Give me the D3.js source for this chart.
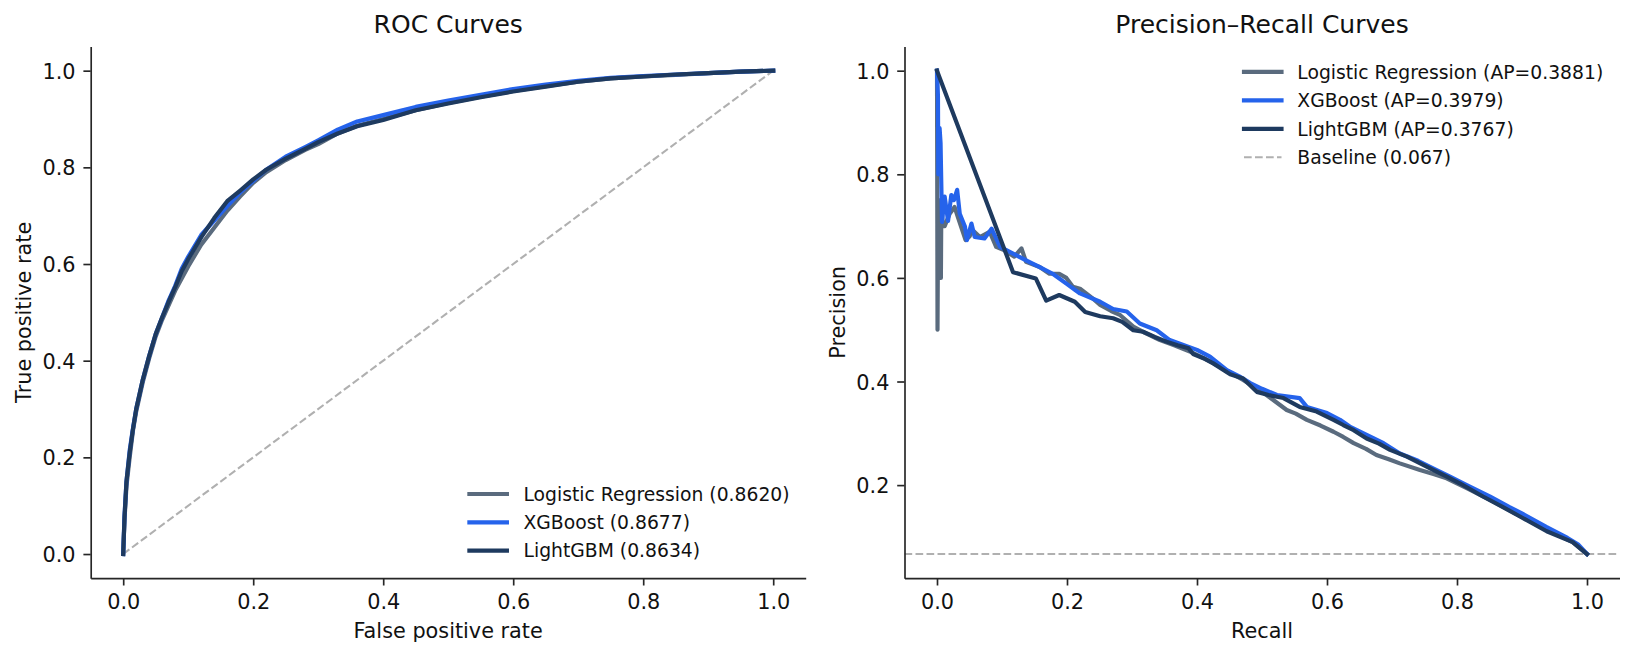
<!DOCTYPE html>
<html>
<head>
<meta charset="utf-8">
<script src="https://cdn.jsdelivr.net/npm/d3@7"></script>
<style>
  html, body { margin: 0; padding: 0; background: #fff; }
  svg { display: block; font-family: "DejaVu Sans", sans-serif; }
</style>
</head>
<body>
<svg id="chart" width="1634" height="656"></svg>
<script>
// ---------------- DATA ----------------
const modelNames = ["Logistic Regression", "XGBoost", "LightGBM"];
const rocAuc = ["0.8620", "0.8677", "0.8634"];
const apScores = ["0.3881", "0.3979", "0.3767"];
const baselineRate = 0.067;
const tickValues = [0, 0.2, 0.4, 0.6, 0.8, 1.0];
const prYTicks = [0.2, 0.4, 0.6, 0.8, 1.0];

// ROC curves: [fpr, tpr]
const rocLR = [[0,0],[0.002,0.07],[0.005,0.14],[0.01,0.2],[0.015,0.255],[0.02,0.295],[0.03,0.355],[0.04,0.405],[0.05,0.45],[0.06,0.485],[0.07,0.515],[0.08,0.545],[0.09,0.57],[0.1,0.595],[0.12,0.64],[0.14,0.675],[0.16,0.71],[0.18,0.74],[0.2,0.768],[0.22,0.79],[0.25,0.815],[0.28,0.836],[0.3,0.848],[0.33,0.87],[0.36,0.886],[0.4,0.9],[0.45,0.918],[0.5,0.933],[0.55,0.946],[0.6,0.958],[0.65,0.968],[0.7,0.977],[0.75,0.984],[0.8,0.988],[0.85,0.991],[0.9,0.995],[0.95,0.998],[1,1]];
const rocXGB = [[0,0],[0.002,0.08],[0.005,0.15],[0.01,0.215],[0.015,0.26],[0.02,0.3],[0.03,0.36],[0.04,0.41],[0.05,0.455],[0.06,0.49],[0.07,0.525],[0.08,0.555],[0.09,0.59],[0.1,0.615],[0.12,0.66],[0.14,0.69],[0.16,0.72],[0.18,0.748],[0.2,0.772],[0.22,0.795],[0.25,0.822],[0.28,0.842],[0.3,0.856],[0.33,0.878],[0.36,0.895],[0.4,0.908],[0.45,0.925],[0.5,0.938],[0.55,0.95],[0.6,0.962],[0.65,0.971],[0.7,0.979],[0.75,0.985],[0.8,0.989],[0.85,0.992],[0.9,0.995],[0.95,0.998],[1,1]];
const rocLGBM = [[0,0],[0.002,0.075],[0.005,0.15],[0.01,0.21],[0.015,0.258],[0.02,0.3],[0.03,0.36],[0.04,0.41],[0.05,0.455],[0.06,0.49],[0.07,0.522],[0.08,0.552],[0.09,0.585],[0.1,0.61],[0.12,0.655],[0.14,0.695],[0.16,0.73],[0.18,0.752],[0.2,0.775],[0.22,0.795],[0.25,0.818],[0.28,0.838],[0.3,0.852],[0.33,0.87],[0.36,0.885],[0.4,0.898],[0.45,0.918],[0.5,0.932],[0.55,0.945],[0.6,0.957],[0.65,0.967],[0.7,0.977],[0.75,0.984],[0.8,0.988],[0.85,0.992],[0.9,0.995],[0.95,0.998],[1,1]];

// PR curves: [recall, precision]
const prLR = [[0,1.0],[0.0008,0.5],[0.0015,0.67],[0.003,0.75],[0.0045,0.6],[0.006,0.6],[0.0067,0.74],[0.009,0.7],[0.0118,0.7],[0.0195,0.724],[0.027,0.737],[0.032,0.718],[0.037,0.699],[0.044,0.673],[0.05,0.68],[0.055,0.692],[0.066,0.679],[0.081,0.689],[0.091,0.66],[0.104,0.653],[0.119,0.641],[0.13,0.657],[0.137,0.631],[0.158,0.621],[0.173,0.608],[0.188,0.608],[0.199,0.6],[0.209,0.583],[0.22,0.579],[0.24,0.56],[0.251,0.548],[0.268,0.536],[0.282,0.528],[0.302,0.506],[0.32,0.494],[0.343,0.48],[0.365,0.47],[0.389,0.458],[0.41,0.445],[0.43,0.432],[0.45,0.418],[0.471,0.403],[0.49,0.388],[0.507,0.374],[0.522,0.36],[0.538,0.345],[0.552,0.338],[0.569,0.326],[0.59,0.315],[0.61,0.303],[0.625,0.293],[0.641,0.281],[0.66,0.27],[0.676,0.258],[0.695,0.25],[0.712,0.242],[0.743,0.229],[0.765,0.221],[0.784,0.213],[0.815,0.194],[0.84,0.178],[0.859,0.166],[0.899,0.139],[0.938,0.114],[0.978,0.09],[1.0,0.067]];
const prXGB = [[0,1.0],[0.0015,0.95],[0.002,0.8],[0.004,0.889],[0.0055,0.86],[0.0077,0.708],[0.0118,0.757],[0.017,0.71],[0.022,0.76],[0.026,0.75],[0.031,0.77],[0.035,0.724],[0.043,0.699],[0.046,0.673],[0.053,0.705],[0.058,0.679],[0.073,0.676],[0.084,0.695],[0.097,0.66],[0.117,0.647],[0.137,0.634],[0.158,0.621],[0.178,0.608],[0.199,0.589],[0.22,0.57],[0.251,0.554],[0.271,0.54],[0.292,0.535],[0.312,0.512],[0.338,0.499],[0.358,0.48],[0.38,0.47],[0.4,0.461],[0.42,0.448],[0.446,0.422],[0.465,0.41],[0.482,0.397],[0.5,0.386],[0.523,0.374],[0.558,0.368],[0.569,0.351],[0.6,0.339],[0.62,0.326],[0.635,0.313],[0.661,0.297],[0.687,0.281],[0.712,0.261],[0.74,0.247],[0.764,0.232],[0.79,0.216],[0.815,0.2],[0.851,0.178],[0.88,0.158],[0.899,0.146],[0.938,0.119],[0.97,0.098],[0.986,0.086],[1.0,0.067]];
const prLGBM = [[0,1.0],[0.117,0.611],[0.152,0.599],[0.168,0.556],[0.188,0.567],[0.212,0.554],[0.228,0.534],[0.251,0.526],[0.271,0.522],[0.285,0.515],[0.302,0.499],[0.317,0.496],[0.335,0.486],[0.353,0.477],[0.37,0.47],[0.387,0.464],[0.394,0.453],[0.41,0.445],[0.425,0.435],[0.451,0.414],[0.471,0.406],[0.492,0.38],[0.51,0.374],[0.533,0.368],[0.558,0.351],[0.584,0.342],[0.61,0.326],[0.625,0.316],[0.641,0.306],[0.661,0.29],[0.68,0.28],[0.697,0.268],[0.723,0.255],[0.745,0.241],[0.764,0.229],[0.785,0.216],[0.805,0.203],[0.84,0.178],[0.87,0.158],[0.899,0.138],[0.938,0.111],[0.978,0.09],[1.0,0.067]];

const colors = ["#5a6b7e", "#2563eb", "#1e3a5f"];

// ---------------- LAYOUT ----------------
const svg = d3.select("#chart");
const TEXT = "#111111", SPINE = "#262626";
const plotTop = 46.5, plotBottom = 578.2;
const panels = [
  { x0: 90.7, x1: 805.7, ydom: [-0.05, 1.05], title: "ROC Curves", xlab: "False positive rate", ylab: "True positive rate", yticks: tickValues },
  { x0: 904.5, x1: 1619.5, ydom: [0.0203, 1.0467], title: "Precision\u2013Recall Curves", xlab: "Recall", ylab: "Precision", yticks: prYTicks }
];

const line = (x, y) => d3.line().x(d => x(d[0])).y(d => y(d[1]));

panels.forEach((p, i) => {
  const x = d3.scaleLinear().domain([-0.05, 1.05]).range([p.x0, p.x1]);
  const y = d3.scaleLinear().domain(p.ydom).range([plotBottom, plotTop]);
  p.x = x; p.y = y;
  const g = svg.append("g");
  const clipId = "clip" + i;
  svg.append("clipPath").attr("id", clipId).append("rect")
    .attr("x", p.x0).attr("y", plotTop).attr("width", p.x1 - p.x0).attr("height", plotBottom - plotTop);
  p.plot = g.append("g").attr("clip-path", `url(#${clipId})`);

  const xa = g.append("g").attr("transform", `translate(0,${plotBottom})`)
    .call(d3.axisBottom(x).tickValues(tickValues).tickFormat(d3.format(".1f")).tickSize(7.3).tickSizeOuter(0).tickPadding(7.3));
  const ya = g.append("g").attr("transform", `translate(${p.x0},0)`)
    .call(d3.axisLeft(y).tickValues(p.yticks).tickFormat(d3.format(".1f")).tickSize(7.3).tickSizeOuter(0).tickPadding(7.8));
  [xa, ya].forEach(a => {
    a.select(".domain").attr("stroke", SPINE).attr("stroke-width", 1.67);
    a.selectAll(".tick line").attr("stroke", SPINE).attr("stroke-width", 1.67);
    a.selectAll(".tick text").attr("fill", TEXT).style("font-size", "20.8px").style("font-family", "DejaVu Sans");
  });
  xa.selectAll(".tick text").attr("y", 31.3).attr("dy", "0");
  ya.selectAll(".tick text").attr("dy", "0.36em");

  g.append("text").attr("x", (p.x0 + p.x1) / 2).attr("y", 33.3).attr("text-anchor", "middle")
    .attr("fill", TEXT).style("font-size", "25px").text(p.title);
  g.append("text").attr("x", (p.x0 + p.x1) / 2).attr("y", 637.5).attr("text-anchor", "middle")
    .attr("fill", TEXT).style("font-size", "20.8px").text(p.xlab);
  g.append("text").attr("transform", `translate(${p.x0 - 59.7},${(plotTop + plotBottom) / 2}) rotate(-90)`)
    .attr("text-anchor", "middle").attr("fill", TEXT).style("font-size", "20.8px").text(p.ylab);
});

// ROC panel
const roc = panels[0];
roc.plot.append("path").datum([[0, 0], [1, 1]]).attr("d", line(roc.x, roc.y))
  .attr("fill", "none").attr("stroke", "#b0b0b0").attr("stroke-width", 2.08).attr("stroke-dasharray", "7.7,3.3");
[rocLR, rocXGB, rocLGBM].forEach((s, k) => {
  roc.plot.append("path").datum(s).attr("d", line(roc.x, roc.y))
    .attr("fill", "none").attr("stroke", colors[k]).attr("stroke-width", 4.17)
    .attr("stroke-linejoin", "round").attr("stroke-linecap", "square");
});

// PR panel
const pr = panels[1];
pr.plot.append("line").attr("x1", pr.x0).attr("x2", pr.x1)
  .attr("y1", pr.y(baselineRate)).attr("y2", pr.y(baselineRate))
  .attr("stroke", "#b0b0b0").attr("stroke-width", 2.08).attr("stroke-dasharray", "7.7,3.3");
[prLR, prXGB, prLGBM].forEach((s, k) => {
  pr.plot.append("path").datum(s).attr("d", line(pr.x, pr.y))
    .attr("fill", "none").attr("stroke", colors[k]).attr("stroke-width", 4.17)
    .attr("stroke-linejoin", "round").attr("stroke-linecap", "square");
});

// Legends
function legend(items, hx0, textX, y0, pitch) {
  const lg = svg.append("g");
  items.forEach((it, k) => {
    const yy = y0 + k * pitch;
    const ln = lg.append("line").attr("x1", hx0).attr("x2", hx0 + 37.5).attr("y1", yy).attr("y2", yy)
      .attr("stroke", it.color);
    if (it.dashed) ln.attr("stroke-width", 2.08).attr("stroke-dasharray", "7.7,3.3");
    else ln.attr("stroke-width", 4.17).attr("stroke-linecap", "square");
    lg.append("text").attr("x", textX).attr("y", yy).attr("dy", "0.36em")
      .attr("fill", TEXT).style("font-size", "18.75px").text(it.label);
  });
}
legend(modelNames.map((n, k) => ({ label: `${n} (${rocAuc[k]})`, color: colors[k] })),
  469.4, 523.5, 494, 28.3);
legend(modelNames.map((n, k) => ({ label: `${n} (AP=${apScores[k]})`, color: colors[k] }))
  .concat([{ label: `Baseline (${baselineRate})`, color: "#b0b0b0", dashed: true }]),
  1244, 1297.3, 71.8, 28.5);
</script>
</body>
</html>
